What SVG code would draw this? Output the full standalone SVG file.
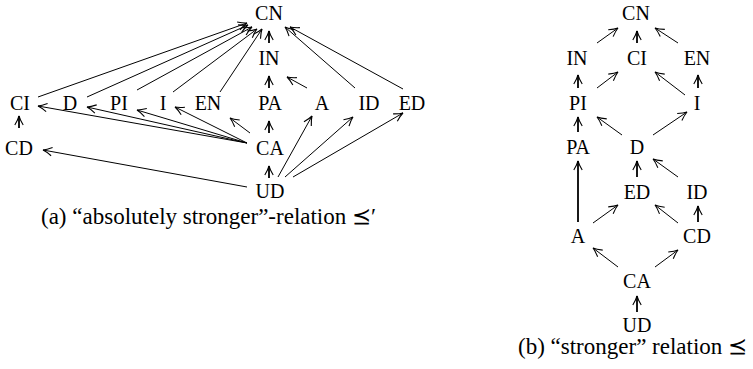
<svg xmlns="http://www.w3.org/2000/svg" width="753" height="369" viewBox="0 0 753 369">
<defs>
<style>
.n{font-family:"Liberation Serif","DejaVu Serif",serif;font-size:20px;text-anchor:middle;fill:#000}
.cap{font-family:"Liberation Serif","DejaVu Serif",serif;font-size:23px;fill:#000}
.e line{stroke:#000;stroke-width:1;fill:none;marker-end:url(#ah)}
.e line.v{stroke-width:1.8}
</style>
<marker id="ah" markerUnits="userSpaceOnUse" markerWidth="14" markerHeight="14" viewBox="-11 -7 14 14" refX="0" refY="0" orient="auto">
<path d="M -9 -4.2 Q -3.5 -0.9 0 0 Q -3.5 0.9 -9 4.2" fill="none" stroke="#000" stroke-width="1.1"/>
</marker>
</defs>
<rect width="753" height="369" fill="#fff"/>
<!-- Left diagram -->
<g class="e" id="edges-a">
<line class="v" x1="269" y1="43" x2="269" y2="31"/>
<line class="v" x1="269" y1="88" x2="269" y2="76"/>
<line class="v" x1="269" y1="133" x2="269" y2="121"/>
<line class="v" x1="269" y1="178" x2="269" y2="166"/>
<line class="v" x1="19" y1="128" x2="19" y2="116"/>
<line x1="307" y1="88" x2="287" y2="77"/>
<line x1="38" y1="97" x2="247" y2="23"/>
<line x1="87" y1="97" x2="248" y2="25"/>
<line x1="137" y1="90" x2="252" y2="27"/>
<line x1="173" y1="92" x2="257" y2="29"/>
<line x1="220" y1="92" x2="262" y2="29"/>
<line x1="355" y1="88" x2="285" y2="27"/>
<line x1="403" y1="89" x2="290" y2="27"/>
<line x1="247" y1="143" x2="38" y2="106"/>
<line x1="247" y1="143" x2="87" y2="107"/>
<line x1="247" y1="143" x2="137" y2="110"/>
<line x1="247" y1="143" x2="175" y2="107"/>
<line x1="250" y1="133" x2="230" y2="118"/>
<line x1="247" y1="187" x2="43" y2="150"/>
<line x1="278" y1="177" x2="312" y2="116"/>
<line x1="285" y1="177" x2="353" y2="117"/>
<line x1="293" y1="177" x2="403" y2="113"/>
</g>
<g id="a-CN"><text class="n" x="269" y="20">CN</text></g>
<g id="a-IN"><text class="n" x="269" y="65">IN</text></g>
<g id="a-CI"><text class="n" x="20" y="110">CI</text></g>
<g id="a-D"><text class="n" x="70" y="110">D</text></g>
<g id="a-PI"><text class="n" x="119" y="110">PI</text></g>
<g id="a-I"><text class="n" x="163" y="110">I</text></g>
<g id="a-EN"><text class="n" x="208" y="110">EN</text></g>
<g id="a-PA"><text class="n" x="270" y="110">PA</text></g>
<g id="a-A"><text class="n" x="322" y="110">A</text></g>
<g id="a-ID"><text class="n" x="369" y="110">ID</text></g>
<g id="a-ED"><text class="n" x="412" y="110">ED</text></g>
<g id="a-CD"><text class="n" x="19" y="155">CD</text></g>
<g id="a-CA"><text class="n" x="270" y="155">CA</text></g>
<g id="a-UD"><text class="n" x="270" y="198">UD</text></g>
<text class="cap" x="41" y="224">(a) “absolutely stronger”-relation ⪯′</text>
<!-- Right diagram -->
<g class="e" id="edges-b">
<line class="v" x1="637" y1="43" x2="637" y2="31"/>
<line x1="597" y1="43" x2="618" y2="28"/>
<line x1="678" y1="43" x2="655" y2="28"/>
<line class="v" x1="578" y1="88" x2="578" y2="75"/>
<line x1="597" y1="88" x2="618" y2="72"/>
<line x1="685" y1="95" x2="655" y2="72"/>
<line class="v" x1="698" y1="88" x2="698" y2="75"/>
<line class="v" x1="578" y1="132" x2="578" y2="117"/>
<line x1="622" y1="135" x2="597" y2="117"/>
<line x1="653" y1="135" x2="687" y2="112"/>
<line class="v" x1="637" y1="177" x2="637" y2="161"/>
<line x1="678" y1="177" x2="653" y2="159"/>
<line class="v" x1="578" y1="222" x2="578" y2="161"/>
<line x1="593" y1="223" x2="618" y2="205"/>
<line x1="678" y1="223" x2="655" y2="205"/>
<line class="v" x1="698" y1="222" x2="698" y2="206"/>
<line x1="618" y1="267" x2="593" y2="248"/>
<line x1="655" y1="267" x2="678" y2="250"/>
<line class="v" x1="637" y1="312" x2="637" y2="296"/>
</g>
<g id="b-CN"><text class="n" x="636" y="20">CN</text></g>
<g id="b-IN"><text class="n" x="577" y="65">IN</text></g>
<g id="b-CI"><text class="n" x="637" y="65">CI</text></g>
<g id="b-EN"><text class="n" x="697" y="65">EN</text></g>
<g id="b-PI"><text class="n" x="578" y="110">PI</text></g>
<g id="b-I"><text class="n" x="697" y="110">I</text></g>
<g id="b-PA"><text class="n" x="578" y="154">PA</text></g>
<g id="b-D"><text class="n" x="637" y="154">D</text></g>
<g id="b-ED"><text class="n" x="637" y="199">ED</text></g>
<g id="b-ID"><text class="n" x="697" y="199">ID</text></g>
<g id="b-A"><text class="n" x="578" y="243">A</text></g>
<g id="b-CD"><text class="n" x="697" y="243">CD</text></g>
<g id="b-CA"><text class="n" x="637" y="288">CA</text></g>
<g id="b-UD"><text class="n" x="637" y="332">UD</text></g>
<text class="cap" x="518" y="354">(b) “stronger” relation ⪯</text>
</svg>
